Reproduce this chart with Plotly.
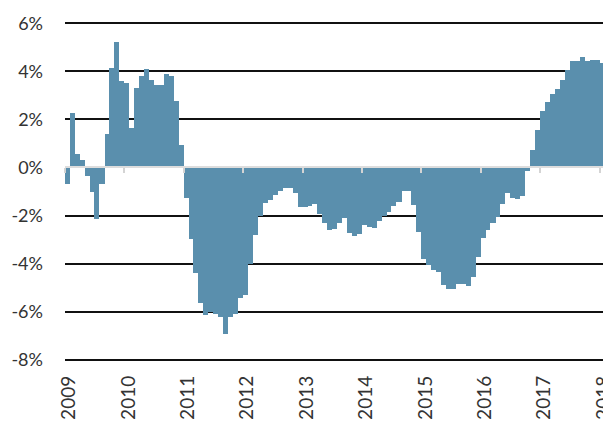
import pandas as pd
import plotly.graph_objects as go

# Monthly values (%), Jan 2009 .. Mar 2018
values_2009 = [-0.69, 2.28, 0.57, 0.32, -0.35, -1.02, -2.13, -0.69, 1.40, 4.14, 5.20, 3.60]
values_2010 = [3.51, 1.66, 3.31, 3.82, 4.09, 3.64, 3.43, 3.43, 3.87, 3.79, 2.75, 0.93]
values_2011 = [-1.28, -2.99, -4.41, -5.64, -6.14, -6.00, -6.10, -6.20, -6.92, -6.20, -6.10, -5.41]
values_2012 = [-5.30, -4.00, -2.79, -2.00, -1.48, -1.34, -1.16, -0.99, -0.86, -0.86, -1.06, -1.64]
values_2013 = [-1.64, -1.61, -1.54, -1.95, -2.30, -2.62, -2.55, -2.33, -2.10, -2.72, -2.83, -2.77]
values_2014 = [-2.40, -2.47, -2.51, -2.21, -2.03, -1.86, -1.59, -1.43, -0.99, -0.98, -1.56, -2.69]
values_2015 = [-3.82, -4.07, -4.26, -4.34, -4.90, -5.06, -5.06, -4.83, -4.86, -4.92, -4.55, -3.72]
values_2016 = [-2.92, -2.62, -2.33, -2.07, -1.54, -1.06, -1.27, -1.31, -1.20, -0.14, 0.74, 1.57]
values_2017 = [2.36, 2.71, 3.04, 3.26, 3.63, 4.04, 4.42, 4.44, 4.58, 4.44, 4.49, 4.46]
values_2018 = [4.35, 4.69, 5.02]

values = (values_2009 + values_2010 + values_2011 + values_2012 + values_2013 +
          values_2014 + values_2015 + values_2016 + values_2017 + values_2018)
months = pd.date_range("2009-01-01", periods=len(values), freq="MS")

year_ticks = [f"{y}-01-01" for y in range(2009, 2019)]
year_labels = [str(y) for y in range(2009, 2019)]

y_tickvals = [-8, -6, -4, -2, 0, 2, 4, 6]
y_ticktext = [f"{v}%" for v in y_tickvals]

FONT = "Lato, 'Open Sans', sans-serif"
BAR = "#5a8fad"

widths = [(m.days_in_month * 86400000) + 3600000 for m in months]

fig = go.Figure()
fig.add_trace(go.Bar(
    x=months, y=values,
    xperiod="M1", xperiodalignment="middle",
    width=widths,
    marker=dict(color=BAR, line=dict(width=0)),
    showlegend=False, hoverinfo="x+y", cliponaxis=True,
))
# helper (empty) trace so that the zero-line axis with ticks is drawn
fig.add_trace(go.Scatter(x=[months[0]], y=[None], xaxis="x2", yaxis="y",
                         mode="markers", showlegend=False, hoverinfo="skip"))

yr = [-8.05, 6.05]
xr = ["2009-01-01", "2018-03-12"]

# page body adds an 8px offset, so the figure is 8px smaller than the window
fig.update_layout(
    width=603, height=415,
    margin=dict(l=57, r=0, t=14, b=62, autoexpand=False),
    paper_bgcolor="white", plot_bgcolor="white",
    bargap=0,
    font=dict(family=FONT, color="#333333", size=16),
    xaxis=dict(
        type="date", range=xr, automargin=False,
        tickmode="array", tickvals=year_ticks, ticktext=year_labels,
        tickangle=-90, ticks="", showgrid=False, showline=False, zeroline=False,
        tickfont=dict(size=19, color="#333333"),
        ticklabelstandoff=10, ticklabelshift=4, ticklabeloverflow="allow",
    ),
    xaxis2=dict(
        type="date", range=xr, overlaying="x", anchor="free",
        position=(0 - yr[0]) / (yr[1] - yr[0]),
        side="bottom", automargin=False,
        tickmode="array", tickvals=year_ticks,
        showticklabels=False, ticks="outside", ticklen=5, tickwidth=1.5,
        tickcolor="#d4d4d4",
        showline=True, linecolor="#dddddd", linewidth=2,
        showgrid=False, zeroline=False, layer="above traces",
    ),
    yaxis=dict(
        range=yr, automargin=False,
        tickmode="array", tickvals=y_tickvals, ticktext=y_ticktext,
        showgrid=True, gridcolor="#111111", gridwidth=2,
        zeroline=True, zerolinecolor="#dddddd", zerolinewidth=2,
        showline=False, ticks="",
        tickfont=dict(size=18, color="#333333"),
        ticklabelstandoff=21, ticklabeloverflow="allow",
    ),
)

fig.write_html("out.html")
